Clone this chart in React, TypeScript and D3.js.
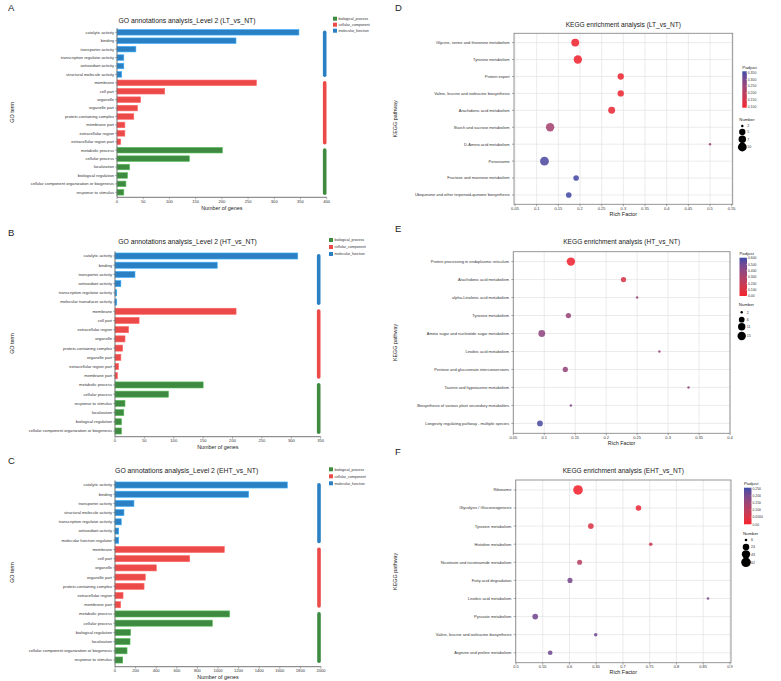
import { useEffect, useRef } from 'react';
import * as d3 from 'd3';

const FONT = "'Liberation Sans', Arial, Helvetica, sans-serif";

// GO level 2 classes
const goClassNames = ['biological_process', 'cellular_component', 'molecular_function'];
const goClassColors = ['#3E8A40', '#EC4A49', '#2A80C2'];

// LT_vs_NT
const ltTerms = [
  'catalytic activity', 'binding', 'transporter activity', 'transcription regulator activity',
  'antioxidant activity', 'structural molecule activity', 'membrane', 'cell part', 'organelle',
  'organelle part', 'protein-containing complex', 'membrane part', 'extracellular region',
  'extracellular region part', 'metabolic process', 'cellular process', 'localization',
  'biological regulation', 'cellular component organization or biogenesis', 'response to stimulus',
];
const ltCounts = [347, 227, 36, 13, 13, 9, 266, 91, 45, 39, 32, 15, 15, 7, 201, 138, 24, 20, 17, 13];
const ltClasses = [
  'molecular_function', 'molecular_function', 'molecular_function', 'molecular_function', 'molecular_function', 'molecular_function',
  'cellular_component', 'cellular_component', 'cellular_component', 'cellular_component',
  'cellular_component', 'cellular_component', 'cellular_component', 'cellular_component',
  'biological_process', 'biological_process', 'biological_process', 'biological_process', 'biological_process', 'biological_process',
];
const ltTicks = [0, 50, 100, 150, 200, 250, 300, 350, 400];

// HT_vs_NT
const htTerms = [
  'catalytic activity', 'binding', 'transporter activity', 'antioxidant activity',
  'transcription regulator activity', 'molecular transducer activity', 'membrane', 'cell part',
  'extracellular region', 'organelle', 'protein-containing complex', 'organelle part',
  'extracellular region part', 'membrane part', 'metabolic process', 'cellular process',
  'response to stimulus', 'localization', 'biological regulation',
  'cellular component organization or biogenesis',
];
const htCounts = [311, 174, 34, 10, 3, 3, 206, 41, 23, 17, 13, 10, 6, 4, 150, 91, 17, 15, 11, 11];
const htClasses = ltClasses;
const htTicks = [0, 50, 100, 150, 200, 250, 300, 350];

// EHT_vs_NT
const ehtTerms = [
  'catalytic activity', 'binding', 'transporter activity', 'structural molecule activity',
  'transcription regulator activity', 'antioxidant activity', 'molecular function regulator',
  'membrane', 'cell part', 'organelle', 'organelle part', 'protein-containing complex',
  'extracellular region', 'membrane part', 'metabolic process', 'cellular process',
  'biological regulation', 'localization', 'cellular component organization or biogenesis',
  'response to stimulus',
];
const ehtCounts = [1673, 1298, 184, 87, 61, 36, 36, 1061, 725, 401, 294, 282, 78, 55, 1113, 945, 152, 146, 117, 75];
const ehtClasses = [
  'molecular_function', 'molecular_function', 'molecular_function', 'molecular_function',
  'molecular_function', 'molecular_function', 'molecular_function',
  'cellular_component', 'cellular_component', 'cellular_component', 'cellular_component',
  'cellular_component', 'cellular_component', 'cellular_component',
  'biological_process', 'biological_process', 'biological_process', 'biological_process', 'biological_process', 'biological_process',
];
const ehtTicks = [0, 200, 400, 600, 800, 1000, 1200, 1400, 1600, 1800, 2000];

// KEGG enrichment, LT_vs_NT
const keggLtPathways = [
  'Glycine, serine and threonine metabolism', 'Tyrosine metabolism', 'Protein export',
  'Valine, leucine and isoleucine biosynthesis', 'Arachidonic acid metabolism',
  'Starch and sucrose metabolism', 'D-Amino acid metabolism', 'Peroxisome',
  'Fructose and mannose metabolism', 'Ubiquinone and other terpenoid-quinone biosynthesis',
];
const keggLtRich = [0.189, 0.195, 0.294, 0.294, 0.273, 0.131, 0.5, 0.118, 0.191, 0.174];
const keggLtNumber = [8, 9, 5, 5, 6, 9, 2, 10, 4, 4];
const keggLtPadj = [0.1, 0.1, 0.105, 0.105, 0.115, 0.235, 0.25, 0.345, 0.35, 0.355];
const keggLtTicks = [0.05, 0.1, 0.15, 0.2, 0.25, 0.3, 0.35, 0.4, 0.45, 0.5, 0.55];
const keggLtPadjTicks = [0.35, 0.3, 0.25, 0.2, 0.15, 0.1];
const keggLtPadjLabels = ['0.350', '0.300', '0.250', '0.200', '0.150', '0.100'];
const keggLtSizeBreaks = [2, 5, 7, 10];

// KEGG enrichment, HT_vs_NT
const keggHtPathways = [
  'Protein processing in endoplasmic reticulum', 'Arachidonic acid metabolism',
  'alpha-Linolenic acid metabolism', 'Tyrosine metabolism',
  'Amino sugar and nucleotide sugar metabolism', 'Linoleic acid metabolism',
  'Pentose and glucuronate interconversions', 'Taurine and hypotaurine metabolism',
  'Biosynthesis of various plant secondary metabolites',
  'Longevity regulating pathway - multiple species',
];
const keggHtRich = [0.143, 0.228, 0.25, 0.139, 0.096, 0.286, 0.134, 0.333, 0.143, 0.093];
const keggHtNumber = [15, 5, 2, 5, 9, 2, 5, 2, 2, 6];
const keggHtPadj = [0.02, 0.13, 0.36, 0.37, 0.4, 0.38, 0.38, 0.4, 0.47, 0.58];
const keggHtTicks = [0.05, 0.1, 0.15, 0.2, 0.25, 0.3, 0.35, 0.4];
const keggHtPadjTicks = [0.6, 0.5, 0.4, 0.3, 0.2, 0.1, 0];
const keggHtPadjLabels = ['0.600', '0.500', '0.400', '0.300', '0.200', '0.100', '0.00'];
const keggHtSizeBreaks = [2, 6, 11, 15];

// KEGG enrichment, EHT_vs_NT
const keggEhtPathways = [
  'Ribosome', 'Glycolysis / Gluconeogenesis', 'Tyrosine metabolism', 'Histidine metabolism',
  'Nicotinate and nicotinamide metabolism', 'Fatty acid degradation', 'Linoleic acid metabolism',
  'Pyruvate metabolism', 'Valine, leucine and isoleucine biosynthesis',
  'Arginine and proline metabolism',
];
const keggEhtRich = [0.616, 0.729, 0.64, 0.752, 0.619, 0.601, 0.859, 0.536, 0.649, 0.564];
const keggEhtNumber = [62, 16, 16, 7, 13, 13, 6, 17, 7, 11];
const keggEhtPadj = [0.0, 0.02, 0.05, 0.075, 0.11, 0.2, 0.2, 0.21, 0.21, 0.21];
const keggEhtTicks = [0.5, 0.55, 0.6, 0.65, 0.7, 0.75, 0.8, 0.85, 0.9];
const keggEhtPadjTicks = [0.25, 0.2, 0.15, 0.1, 0.05, 0];
const keggEhtPadjLabels = ['0.250', '0.200', '0.150', '0.100', '0.0500', '0.00'];
const keggEhtSizeBreaks = [6, 24, 43, 62];

type Sel = d3.Selection<SVGGElement, unknown, null, undefined>;

type GoPanel = {
  letter: string; letterY: number; title: string; titleX: number; titleY: number;
  terms: string[]; counts: number[]; classes: string[]; ticks: number[];
  x0: number; x1: number; yFirst: number; yLast: number; axisY: number;
  legendX: number; legendY: number; legendStep: number;
};

function drawGo(root: Sel, p: GoPanel) {
  const g = root.append('g');
  const n = p.terms.length;
  const idx = d3.range(n);
  const x = d3.scaleLinear().domain([0, p.ticks[p.ticks.length - 1]]).range([p.x0, p.x1]);
  const step = (p.yLast - p.yFirst) / (n - 1);
  const y = d3.scaleBand<number>().domain(idx)
    .range([p.yFirst - step / 2, p.yLast + step / 2])
    .paddingInner(0.34).paddingOuter(0.17);
  const color = d3.scaleOrdinal<string, string>().domain(goClassNames).range(goClassColors);
  const mid = (i: number) => (y(i) as number) + y.bandwidth() / 2;

  g.append('text').attr('x', 8).attr('y', p.letterY).attr('font-size', 9.5).attr('fill', '#222').text(p.letter);
  g.append('text').attr('x', p.titleX).attr('y', p.titleY).attr('text-anchor', 'middle')
    .attr('font-size', 6.8).attr('fill', '#222').text(p.title);

  // bars
  g.append('g').selectAll('rect').data(idx).join('rect')
    .attr('x', x(0))
    .attr('y', (i) => y(i) as number)
    .attr('width', (i) => x(p.counts[i]) - x(0))
    .attr('height', y.bandwidth())
    .attr('fill', (i) => color(p.classes[i]))
    .attr('stroke', (i) => d3.color(color(p.classes[i]))!.brighter(0.9).formatHex())
    .attr('stroke-width', 0.6);

  // y axis
  const top = p.yFirst - step / 2;
  g.append('line').attr('x1', x(0)).attr('x2', x(0)).attr('y1', top).attr('y2', p.axisY)
    .attr('stroke', '#666').attr('stroke-width', 0.9);
  g.append('g').selectAll('line').data(idx).join('line')
    .attr('x1', x(0) - 2).attr('x2', x(0)).attr('y1', mid).attr('y2', mid)
    .attr('stroke', '#666').attr('stroke-width', 0.5);
  g.append('g').selectAll('text').data(idx).join('text')
    .attr('x', x(0) - 3).attr('y', (i) => mid(i) + 1.4).attr('text-anchor', 'end')
    .attr('font-size', 4.1).attr('fill', '#333').text((i) => p.terms[i]);

  // x axis
  g.append('line').attr('x1', x(0)).attr('x2', x(p.ticks[p.ticks.length - 1])).attr('y1', p.axisY).attr('y2', p.axisY)
    .attr('stroke', '#666').attr('stroke-width', 0.9);
  g.append('g').selectAll('line').data(p.ticks).join('line')
    .attr('x1', (d) => x(d)).attr('x2', (d) => x(d)).attr('y1', p.axisY).attr('y2', p.axisY + 2)
    .attr('stroke', '#666').attr('stroke-width', 0.5);
  g.append('g').selectAll('text').data(p.ticks).join('text')
    .attr('x', (d) => x(d)).attr('y', p.axisY + 5.4).attr('text-anchor', 'middle')
    .attr('font-size', 4.1).attr('fill', '#333').text((d) => String(d));
  g.append('text').attr('x', (p.x0 + p.x1) / 2).attr('y', p.axisY + 12.6).attr('text-anchor', 'middle')
    .attr('font-size', 5.4).attr('fill', '#222').text('Number of genes');
  const cy = (p.yFirst + p.yLast) / 2;
  g.append('text').attr('transform', `translate(14,${cy}) rotate(-90)`).attr('text-anchor', 'middle')
    .attr('font-size', 5.4).attr('fill', '#222').text('GO term');

  // class strips on the right
  const catX = p.x1 - 2;
  goClassNames.forEach((c) => {
    const members = idx.filter((i) => p.classes[i] === c);
    if (!members.length) return;
    const y0 = mid(members[0]) - step * 0.22;
    const y1 = mid(members[members.length - 1]) + step * 0.32;
    g.append('rect').attr('x', catX - 1.8).attr('y', y0).attr('width', 3.6).attr('height', y1 - y0)
      .attr('rx', 1.8).attr('fill', color(c));
  });

  // legend
  goClassNames.forEach((c, k) => {
    const ly = p.legendY + k * p.legendStep;
    g.append('rect').attr('x', p.legendX).attr('y', ly - 2).attr('width', 4).attr('height', 4).attr('fill', color(c));
    g.append('text').attr('x', p.legendX + 5.5).attr('y', ly + 1.2).attr('font-size', 3.6).attr('fill', '#333').text(c);
  });
}

type KeggPanel = {
  letter: string; letterY: number; title: string; titleY: number;
  pathways: string[]; rich: number[]; number: number[]; padj: number[];
  ticks: number[]; xDomain: [number, number];
  left: number; right: number; top: number; bottom: number;
  padjDomain: [number, number]; padjTicks: number[]; padjLabels: string[];
  barX: number; barW: number; barTop: number; barBottom: number;
  sizeBreaks: number[]; rMin: number; rMax: number;
  numTitleY: number; numRows: number[]; numX: number;
};

const LOW = '#F4222E';
const HIGH = '#3C4BA8';

function drawKegg(root: Sel, p: KeggPanel, id: string) {
  const g = root.append('g');
  const x = d3.scaleLinear().domain(p.xDomain).range([p.left, p.right]);
  const y = d3.scalePoint<string>().domain(p.pathways).range([p.top, p.bottom]).padding(0.55);
  const col = d3.scaleLinear<string>().domain(p.padjDomain).range([LOW, HIGH]).interpolate(d3.interpolateLab);
  const nMin = p.sizeBreaks[0];
  const nMax = p.sizeBreaks[p.sizeBreaks.length - 1];
  const norm = d3.scaleLinear().domain([nMin, nMax]).range([0, 1]).clamp(true);
  const rad = d3.scaleLinear().domain([0, 1]).range([p.rMin, p.rMax]);
  const r = (v: number) => rad(Math.sqrt(norm(v)));
  const cx = (p.left + p.right) / 2;

  g.append('text').attr('x', 395).attr('y', p.letterY).attr('font-size', 9.5).attr('fill', '#222').text(p.letter);
  g.append('text').attr('x', cx).attr('y', p.titleY).attr('text-anchor', 'middle')
    .attr('font-size', 6.6).attr('fill', '#222').text(p.title);

  // grid
  g.append('g').selectAll('line').data(p.ticks).join('line')
    .attr('x1', (d) => x(d)).attr('x2', (d) => x(d)).attr('y1', p.top).attr('y2', p.bottom)
    .attr('stroke', '#E3E3E3').attr('stroke-width', 0.7);
  g.append('g').selectAll('line').data(p.pathways).join('line')
    .attr('x1', p.left).attr('x2', p.right).attr('y1', (d) => y(d)!).attr('y2', (d) => y(d)!)
    .attr('stroke', '#E3E3E3').attr('stroke-width', 0.7);
  g.append('rect').attr('x', p.left).attr('y', p.top).attr('width', p.right - p.left).attr('height', p.bottom - p.top)
    .attr('fill', 'none').attr('stroke', '#8A8A8A').attr('stroke-width', 0.9);

  // points
  g.append('g').selectAll('circle').data(d3.range(p.pathways.length)).join('circle')
    .attr('cx', (i) => x(p.rich[i])).attr('cy', (i) => y(p.pathways[i])!)
    .attr('r', (i) => r(p.number[i])).attr('fill', (i) => col(p.padj[i])).attr('fill-opacity', 0.88);

  // axes
  g.append('g').selectAll('line').data(p.pathways).join('line')
    .attr('x1', p.left - 2).attr('x2', p.left).attr('y1', (d) => y(d)!).attr('y2', (d) => y(d)!)
    .attr('stroke', '#555').attr('stroke-width', 0.5);
  g.append('g').selectAll('text').data(p.pathways).join('text')
    .attr('x', p.left - 4.3).attr('y', (d) => y(d)! + 1.4).attr('text-anchor', 'end')
    .attr('font-size', 4.0).attr('fill', '#333').text((d) => d);
  g.append('g').selectAll('line').data(p.ticks).join('line')
    .attr('x1', (d) => x(d)).attr('x2', (d) => x(d)).attr('y1', p.bottom).attr('y2', p.bottom + 2)
    .attr('stroke', '#555').attr('stroke-width', 0.5);
  g.append('g').selectAll('text').data(p.ticks).join('text')
    .attr('x', (d) => x(d)).attr('y', p.bottom + 5.2).attr('text-anchor', 'middle')
    .attr('font-size', 4.0).attr('fill', '#333').text((d) => String(d));
  g.append('text').attr('x', cx).attr('y', p.bottom + 11.3).attr('text-anchor', 'middle')
    .attr('font-size', 5.4).attr('fill', '#222').text('Rich Factor');
  g.append('text').attr('transform', `translate(397,${(p.top + p.bottom) / 2}) rotate(-90)`).attr('text-anchor', 'middle')
    .attr('font-size', 5.4).attr('fill', '#222').text('KEGG pathway');

  // Padjust colour bar
  const grad = g.append('defs').append('linearGradient').attr('id', id)
    .attr('x1', 0).attr('x2', 0).attr('y1', 1).attr('y2', 0);
  d3.range(11).forEach((k) => {
    const v = p.padjDomain[0] + (k / 10) * (p.padjDomain[1] - p.padjDomain[0]);
    grad.append('stop').attr('offset', k / 10).attr('stop-color', col(v));
  });
  const by = d3.scaleLinear().domain(p.padjDomain).range([p.barBottom, p.barTop]);
  g.append('text').attr('x', p.barX).attr('y', p.barTop - 2.5).attr('font-size', 4.3).attr('fill', '#222').text('Padjust');
  g.append('rect').attr('x', p.barX).attr('y', p.barTop).attr('width', p.barW).attr('height', p.barBottom - p.barTop)
    .attr('fill', `url(#${id})`);
  g.append('g').selectAll('line').data(p.padjTicks).join('line')
    .attr('x1', p.barX + p.barW - 1).attr('x2', p.barX + p.barW).attr('y1', (d) => by(d)).attr('y2', (d) => by(d))
    .attr('stroke', '#fff').attr('stroke-width', 0.4);
  g.append('g').selectAll('text').data(p.padjTicks).join('text')
    .attr('x', p.barX + p.barW + 1).attr('y', (d) => by(d) + 1.2)
    .attr('font-size', 3.4).attr('fill', '#333').text((_d, i) => p.padjLabels[i]);

  // Number legend
  g.append('text').attr('x', p.numX - 3).attr('y', p.numTitleY + 1.4).attr('font-size', 4.3).attr('fill', '#222').text('Number');
  g.append('g').selectAll('circle').data(p.sizeBreaks).join('circle')
    .attr('cx', p.numX).attr('cy', (_d, i) => p.numRows[i]).attr('r', (d) => r(d)).attr('fill', '#000');
  g.append('g').selectAll('text').data(p.sizeBreaks).join('text')
    .attr('x', p.numX + 5).attr('y', (_d, i) => p.numRows[i] + 1.3)
    .attr('font-size', 3.6).attr('fill', '#333').text((d) => String(d));
}

export default function App() {
  const ref = useRef<SVGSVGElement>(null);

  useEffect(() => {
    const svg = d3.select(ref.current);
    svg.selectAll('*').remove();
    const root = svg.append('g').attr('font-family', FONT) as unknown as Sel;

    drawGo(root, {
      letter: 'A', letterY: 11, title: 'GO annotations analysis_Level 2 (LT_vs_NT)', titleX: 187, titleY: 22.5,
      terms: ltTerms, counts: ltCounts, classes: ltClasses, ticks: ltTicks,
      x0: 117, x1: 326.7, yFirst: 32.3, yLast: 192.3, axisY: 197.3,
      legendX: 333, legendY: 18.7, legendStep: 6,
    });
    drawGo(root, {
      letter: 'B', letterY: 236, title: 'GO annotations analysis_Level 2 (HT_vs_NT)', titleX: 187.5, titleY: 244,
      terms: htTerms, counts: htCounts, classes: htClasses, ticks: htTicks,
      x0: 115, x1: 320.7, yFirst: 256, yLast: 431, axisY: 436.7,
      legendX: 329, legendY: 240, legendStep: 7,
    });
    drawGo(root, {
      letter: 'C', letterY: 464, title: 'GO annotations analysis_Level 2 (EHT_vs_NT)', titleX: 186.7, titleY: 473,
      terms: ehtTerms, counts: ehtCounts, classes: ehtClasses, ticks: ehtTicks,
      x0: 115, x1: 321, yFirst: 485, yLast: 660, axisY: 666.7,
      legendX: 329, legendY: 469.3, legendStep: 7,
    });

    drawKegg(root, {
      letter: 'D', letterY: 11, title: 'KEGG enrichment analysis (LT_vs_NT)', titleY: 26.5,
      pathways: keggLtPathways, rich: keggLtRich, number: keggLtNumber, padj: keggLtPadj,
      ticks: keggLtTicks, xDomain: [0.0477, 0.5523],
      left: 514, right: 732.7, top: 33.3, bottom: 204.3,
      padjDomain: [0.093, 0.36], padjTicks: keggLtPadjTicks, padjLabels: keggLtPadjLabels,
      barX: 742.3, barW: 4.5, barTop: 71.3, barBottom: 107.7,
      sizeBreaks: keggLtSizeBreaks, rMin: 1.2, rMax: 4.4,
      numTitleY: 120, numRows: [126, 132, 139.3, 147], numX: 742.3,
    }, 'padj-lt');
    drawKegg(root, {
      letter: 'E', letterY: 232, title: 'KEGG enrichment analysis (HT_vs_NT)', titleY: 244,
      pathways: keggHtPathways, rich: keggHtRich, number: keggHtNumber, padj: keggHtPadj,
      ticks: keggHtTicks, xDomain: [0.05, 0.4],
      left: 513.3, right: 730, top: 251.7, bottom: 433.3,
      padjDomain: [0, 0.605], padjTicks: keggHtPadjTicks, padjLabels: keggHtPadjLabels,
      barX: 739.5, barW: 7.5, barTop: 257.7, barBottom: 296,
      sizeBreaks: keggHtSizeBreaks, rMin: 1.2, rMax: 4.2,
      numTitleY: 305, numRows: [312.3, 319.7, 326.7, 336], numX: 741.7,
    }, 'padj-ht');
    drawKegg(root, {
      letter: 'F', letterY: 455, title: 'KEGG enrichment analysis (EHT_vs_NT)', titleY: 473,
      pathways: keggEhtPathways, rich: keggEhtRich, number: keggEhtNumber, padj: keggEhtPadj,
      ticks: keggEhtTicks, xDomain: [0.4995, 0.902],
      left: 515.7, right: 731, top: 480, bottom: 662.7,
      padjDomain: [0, 0.258], padjTicks: keggEhtPadjTicks, padjLabels: keggEhtPadjLabels,
      barX: 744, barW: 7.5, barTop: 487.7, barBottom: 524.3,
      sizeBreaks: keggEhtSizeBreaks, rMin: 1.3, rMax: 4.8,
      numTitleY: 533.3, numRows: [540, 547, 554.3, 562.3], numX: 746,
    }, 'padj-eht');
  }, []);

  return (
    <svg
      ref={ref}
      width={781}
      height={681}
      style={{ position: 'absolute', left: 0, top: 0, background: '#fff' }}
    />
  );
}
